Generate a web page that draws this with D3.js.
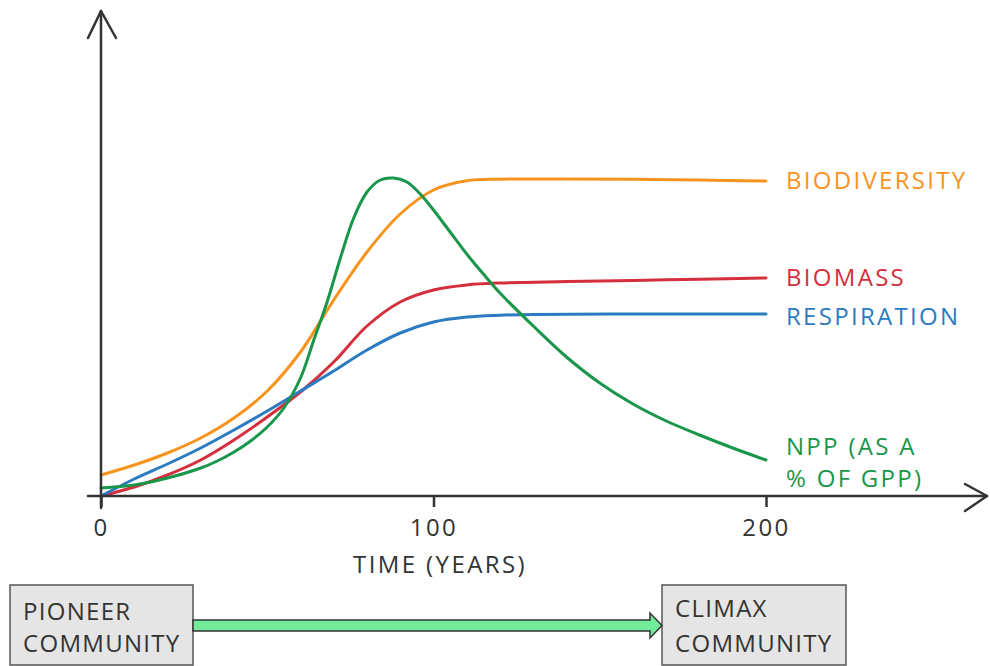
<!DOCTYPE html>
<html>
<head>
<meta charset="utf-8">
<script src="https://cdn.jsdelivr.net/npm/d3@7/dist/d3.min.js"></script>
<style>
  html, body { margin: 0; padding: 0; background: #fff; }
  svg { display: block; }
  text { font-family: "Open Sans", "DejaVu Sans", sans-serif; }
</style>
</head>
<body>
<svg id="chart" width="990" height="666"></svg>
<script>
// ---- data ----
const xTicks = [0, 100, 200];
const xTitle = "TIME (YEARS)";

const biodiversityYears  = [0, 10, 20, 30, 40, 50, 60, 70, 80, 90, 100, 110, 120, 140, 160, 180, 200];
const biodiversityValues = [5.25, 7.75, 10.75, 14.5, 19.5, 26.25, 36, 49, 61, 70.5, 76.5, 78.8, 79.2, 79.25, 79.2, 79, 78.75];

const biomassYears  = [0, 10, 20, 30, 40, 50, 60, 70, 80, 90, 100, 110, 120, 140, 160, 180, 200];
const biomassValues = [0, 2.25, 5.25, 9, 14, 19.75, 26, 33.5, 42.5, 48.5, 51.5, 52.75, 53.25, 53.6, 53.9, 54.2, 54.5];

const respirationYears  = [0, 10, 20, 30, 40, 50, 60, 70, 80, 90, 100, 110, 120, 130, 160, 200];
const respirationValues = [0, 4.25, 8, 12, 16.5, 21.25, 26.25, 31.25, 36.5, 40.75, 43.5, 44.75, 45.2, 45.4, 45.5, 45.5];

const nppYears  = [0, 10, 20, 30, 35, 40, 45, 50, 55, 60, 64, 68, 72, 76, 80, 84, 88, 92, 96, 100, 105, 110, 115, 120, 130, 140, 150, 160, 170, 180, 190, 200];
const nppValues = [2, 2.75, 4.5, 7, 8.75, 11, 13.75, 17.25, 22, 29.5, 39, 48.5, 59.5, 69.5, 76, 79, 79.5, 78.5, 75.5, 71.5, 66, 60.5, 55.5, 50.75, 42.5, 34.75, 28.25, 23, 18.75, 15.25, 12, 9];

const seriesNames  = ["BIODIVERSITY", "BIOMASS", "RESPIRATION", ["NPP (AS A", "% OF GPP)"]];
const seriesColors = ["#f7941d", "#d52e3d", "#2b7bc2", "#18964a"];

const stageLabels = [["PIONEER", "COMMUNITY"], ["CLIMAX", "COMMUNITY"]];

// ---- drawing ----
const svg = d3.select("#chart");
const x = d3.scaleLinear().domain([0, 200]).range([101, 766]);
const y = d3.scaleLinear().domain([0, 100]).range([496, 96]);
const axisColor = "#333";
const fontFam = "'Open Sans', 'DejaVu Sans', sans-serif";

const series = [
  { years: biodiversityYears, values: biodiversityValues },
  { years: biomassYears, values: biomassValues },
  { years: respirationYears, values: respirationValues },
  { years: nppYears, values: nppValues }
];

const line = d3.line()
  .x(d => x(d[0]))
  .y(d => y(d[1]))
  .curve(d3.curveCatmullRom.alpha(0.5));

// Lines
series.forEach((s, i) => {
  const pts = s.years.map((yr, j) => [yr, s.values[j]]);
  svg.append("path")
    .datum(pts)
    .attr("d", line)
    .attr("fill", "none")
    .attr("stroke", seriesColors[i])
    .attr("stroke-width", 3)
    .attr("stroke-linecap", "round")
    .attr("stroke-linejoin", "round");
});

// Axes
const g = svg.append("g").attr("stroke", axisColor).attr("stroke-width", 2.5)
  .attr("fill", "none").attr("stroke-linecap", "round").attr("stroke-linejoin", "round");
// y axis
g.append("line").attr("x1", x(0)).attr("x2", x(0)).attr("y1", 508).attr("y2", 11);
g.append("path").attr("d", `M${x(0) - 13},38 L${x(0)},11 L${x(0) + 15},38`);
// x axis
g.append("line").attr("x1", 88).attr("x2", 987).attr("y1", y(0)).attr("y2", y(0));
g.append("path").attr("d", `M965,${y(0) - 12} L987,${y(0)} L965,${y(0) + 15}`);

// ticks via d3 axis
const xAxis = d3.axisBottom(x).tickValues(xTicks).tickSize(11).tickFormat(d3.format("d"));
const ax = svg.append("g").attr("transform", `translate(0,${y(0)})`).call(xAxis);
ax.select(".domain").remove();
ax.selectAll(".tick line").attr("stroke", axisColor).attr("stroke-width", 2.5);
ax.selectAll(".tick text")
  .attr("y", 23)
  .attr("fill", axisColor)
  .style("font-size", "24px")
  .style("letter-spacing", "2.5px")
  .style("font-family", fontFam);

// x title
svg.append("text")
  .attr("x", 440).attr("y", 573)
  .attr("text-anchor", "middle")
  .attr("fill", axisColor)
  .style("font-size", "24px")
  .style("letter-spacing", "2.4px")
  .text(xTitle);

// Series labels
const labelX = 786;
const labelBaselines = [[189], [286], [325], [455, 487]];
seriesNames.forEach((name, i) => {
  const lines = Array.isArray(name) ? name : [name];
  lines.forEach((t, k) => {
    svg.append("text")
      .attr("x", labelX)
      .attr("y", labelBaselines[i][k])
      .attr("fill", seriesColors[i])
      .style("font-size", "24px")
      .style("letter-spacing", "2.3px")
      .text(t);
  });
});

// Bottom boxes
const boxes = [
  { x0: 10, x1: 193, tx: 23, baselines: [620, 652] },
  { x0: 662, x1: 846, tx: 675, baselines: [617, 652] }
];
boxes.forEach((b, i) => {
  svg.append("rect")
    .attr("x", b.x0).attr("y", 585)
    .attr("width", b.x1 - b.x0).attr("height", 80)
    .attr("fill", "#e5e5e5")
    .attr("stroke", "#555")
    .attr("stroke-width", 1.5);
  stageLabels[i].forEach((t, k) => {
    svg.append("text")
      .attr("x", b.tx).attr("y", b.baselines[k])
      .attr("fill", "#333")
      .style("font-size", "24px")
      .style("letter-spacing", "1.3px")
      .text(t);
  });
});

// Green arrow between boxes
svg.append("path")
  .attr("d", "M193,620 L650,620 L650,613 L662,625.5 L650,638 L650,631 L193,631 Z")
  .attr("fill", "#72eb9b")
  .attr("stroke", "#333")
  .attr("stroke-width", 1.5)
  .attr("stroke-linejoin", "miter");
</script>
</body>
</html>
